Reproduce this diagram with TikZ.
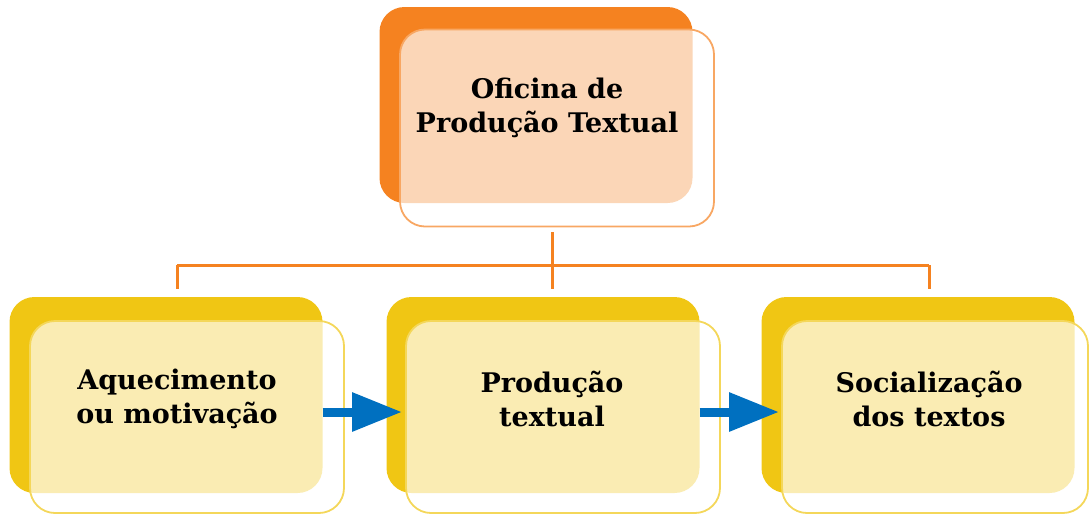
\documentclass[tikz,border=0pt]{standalone}
\usepackage{fontspec}
\setmainfont{DejaVu Serif}
\usepackage{tikz}
\usetikzlibrary{arrows.meta}
\definecolor{orangeback}{RGB}{245,130,32}
\definecolor{yellowback}{RGB}{240,198,20}
\definecolor{arrowblue}{RGB}{0,112,192}

\begin{document}
\begin{tikzpicture}[x=1pt, y=-1pt,
  back/.style={fill=#1, rounded corners=25pt, minimum width=313pt, minimum height=196pt, inner sep=0pt},
  front/.style={draw=#1!70, line width=1.8pt, fill=white, fill opacity=0.68, rounded corners=25pt,
                minimum width=314pt, minimum height=192pt, inner sep=0pt},
  boxtext/.style={font=\bfseries\fontsize{27}{34.5}\selectfont, align=center},
  tree/.style={draw=orangeback, line width=3pt},
  flow/.style={draw=arrowblue, line width=9pt, -{Triangle[length=50pt,width=37pt]}}
]
  \useasboundingbox (0,0) rectangle (1090,515);
  % top box
  \node[back=orangeback] (tback) at (536,105) {};
  \node[front=orangeback, minimum height=197pt] (tfront) at (557,128) {};
  \node[boxtext] (oficina) at (547,108) {Oficina de\\Produção Textual};
  % the three steps
  \node[back=yellowback] (lback) at (166,395) {};
  \node[front=yellowback] (lfront) at (187,417) {};
  \node[boxtext] (aquec) at (177,399) {Aquecimento\\ou motivação};
  \node[back=yellowback] (mback) at (543,395) {};
  \node[front=yellowback] (mfront) at (563,417) {};
  \node[boxtext] (producao) at (552,399) {Produção\\textual};
  \node[back=yellowback] (rback) at (918,395) {};
  \node[front=yellowback, minimum width=306pt] (rfront) at (935,417) {};
  \node[boxtext] (social) at (929,399) {Socialização\\dos textos};
  % tree
  \coordinate (hub) at (552,265);
  \draw[tree] ([yshift=-5pt]tfront.south -| hub) -- (hub)
              (aquec |- hub) -- (social |- hub);
  \foreach \n in {aquec,producao,social}
    \draw[tree] (\n |- hub) -- ++(0,24);
  % arrows
  \draw[flow] ([yshift=-17pt]lback.east) -- ([xshift=-3pt,yshift=5pt]mfront.west);
  \draw[flow] ([yshift=-17pt]mback.east) -- ([xshift=-2pt,yshift=5pt]rfront.west);
\end{tikzpicture}
\end{document}
